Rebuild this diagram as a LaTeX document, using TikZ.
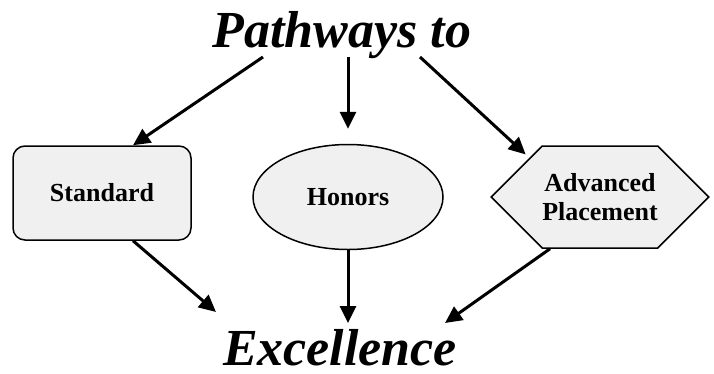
\documentclass[tikz,border=0pt]{standalone}
\usepackage{fontspec}
\setmainfont{Liberation Serif}
\usetikzlibrary{arrows.meta,shapes.geometric,shapes.symbols}

\begin{document}
\begin{tikzpicture}[x=1pt, y=-1pt, auto,
            every node/.style={font=\bfseries}]
            \tikzstyle{shapeStyle} = [draw=black, fill=black!6, line width=1.5pt, inner sep=0pt, align=center,
                                      font=\bfseries\fontsize{26}{29}\selectfont]
            \tikzstyle{titleStyle} = [anchor=base, inner sep=0pt, font=\bfseries\itshape\fontsize{52}{60}\selectfont]
            \tikzstyle{blackArrow} = [draw=black, line width=3pt, -{Triangle[length=17pt,width=16pt]}]
            \useasboundingbox (0,0) rectangle (714,373);
            \node[titleStyle] (top) at (342,47) {Pathways to};
            \node[titleStyle] (bottom) at (340,365) {Excellence};
            \node[shapeStyle, rectangle, rounded corners=12pt,
                  minimum width=178, minimum height=94] (std) at (102,193) {Standard};
            \node[shapeStyle, ellipse, minimum width=190, minimum height=105] (hon) at (348,197) {Honors};
            \node[shapeStyle, signal, signal to=west and east, signal pointer angle=90,
                  minimum width=210, minimum height=102] (ap) at (600,197) {Advanced\\Placement};
            \coordinate (t1) at (263,57);
            \coordinate (t2) at (348,57);
            \coordinate (t3) at (420,57);
            \coordinate (b1) at (216,312);
            \coordinate (b2) at (348,323);
            \coordinate (b3) at (445,323);
            \draw[blackArrow] (t1) -- (std.57);
            \draw[blackArrow, shorten >=15pt] (t2) -- (hon.north);
            \draw[blackArrow, shorten >=5pt] (t3) -- (ap.151);
            \foreach \from/\to in {std.-57/b1, hon.south/b2, ap.-134/b3}
                \draw[blackArrow] (\from) -- (\to);
        \end{tikzpicture}
\end{document}
